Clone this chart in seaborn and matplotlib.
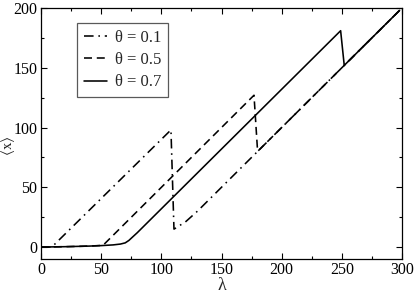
import numpy as np
import pandas as pd
import matplotlib
matplotlib.use("Agg")
import matplotlib.pyplot as plt
from matplotlib.ticker import MultipleLocator
import seaborn as sns

# theta = 0.1 (dash-dot)
lam_01 = [0, 9, 108, 110.5, 113, 116, 120, 125, 130, 180, 252, 298]
x_01 = [0, 0, 98, 15, 16.5, 18.5, 21, 25.5, 30, 80, 152, 198]

# theta = 0.5 (dashed)
lam_05 = [0, 20, 40, 51.5, 177, 180, 252, 298]
x_05 = [0, 0.3, 0.8, 1.4, 127, 80, 152, 198]

# theta = 0.7 (solid)
lam_07 = [0, 20, 40, 50, 60, 66, 70, 73, 76, 80, 85, 249, 252, 298]
x_07 = [0, 0.3, 0.8, 1.2, 1.8, 2.5, 3.5, 5.5, 8.3, 12, 17, 181, 152, 198]

labels = ["θ = 0.1", "θ = 0.5", "θ = 0.7"]
x_ticks = [0, 50, 100, 150, 200, 250, 300]
y_ticks = [0, 50, 100, 150, 200]

sns.set_style("ticks")
plt.rcParams["font.family"] = ["Liberation Serif", "DejaVu Serif"]
plt.rcParams["font.size"] = 11.5
plt.rcParams["mathtext.fontset"] = "stix"

fig = plt.figure(figsize=(4.15, 2.93), dpi=100)
ax = fig.add_axes([41 / 415, 34 / 293, 361 / 415, 251 / 293])

series = [(lam_01, x_01, (0, (6, 3, 1, 3))),
          (lam_05, x_05, (0, (5, 3))),
          (lam_07, x_07, "-")]
for (lam, xv, ls), lab in zip(series, labels):
    df = pd.DataFrame({"lam": lam, "x": xv})
    sns.lineplot(data=df, x="lam", y="x", ax=ax, sort=False, estimator=None,
                 color="black", linewidth=1.15, linestyle=ls, label=lab)

ax.set_xlim(0, 300)
ax.set_ylim(-10, 200)
ax.set_xticks(x_ticks)
ax.set_yticks(y_ticks)
ax.xaxis.set_minor_locator(MultipleLocator(25))
ax.yaxis.set_minor_locator(MultipleLocator(25))
ax.tick_params(which="both", direction="in", top=True, right=True,
               labelsize=11.5, width=0.8, colors="black", pad=2.5)
ax.tick_params(which="major", length=4)
ax.tick_params(which="minor", length=2.5)
for s in ax.spines.values():
    s.set_linewidth(0.9)
    s.set_color("black")

ax.set_xlabel("λ", fontsize=13, labelpad=-1)
ax.set_ylabel(r"$\langle\mathrm{x}\rangle$", fontsize=11)
ax.yaxis.set_label_coords(-0.066, 0.45)

leg = ax.legend(loc="upper left", bbox_to_anchor=(0.1, 0.94), fancybox=False,
                framealpha=1, edgecolor="0.35", fontsize=12, handlelength=1.4,
                handletextpad=0.5, borderpad=0.4, labelspacing=0.38,
                borderaxespad=0)
leg.get_frame().set_linewidth(0.9)

fig.savefig("out.png", dpi=100)
